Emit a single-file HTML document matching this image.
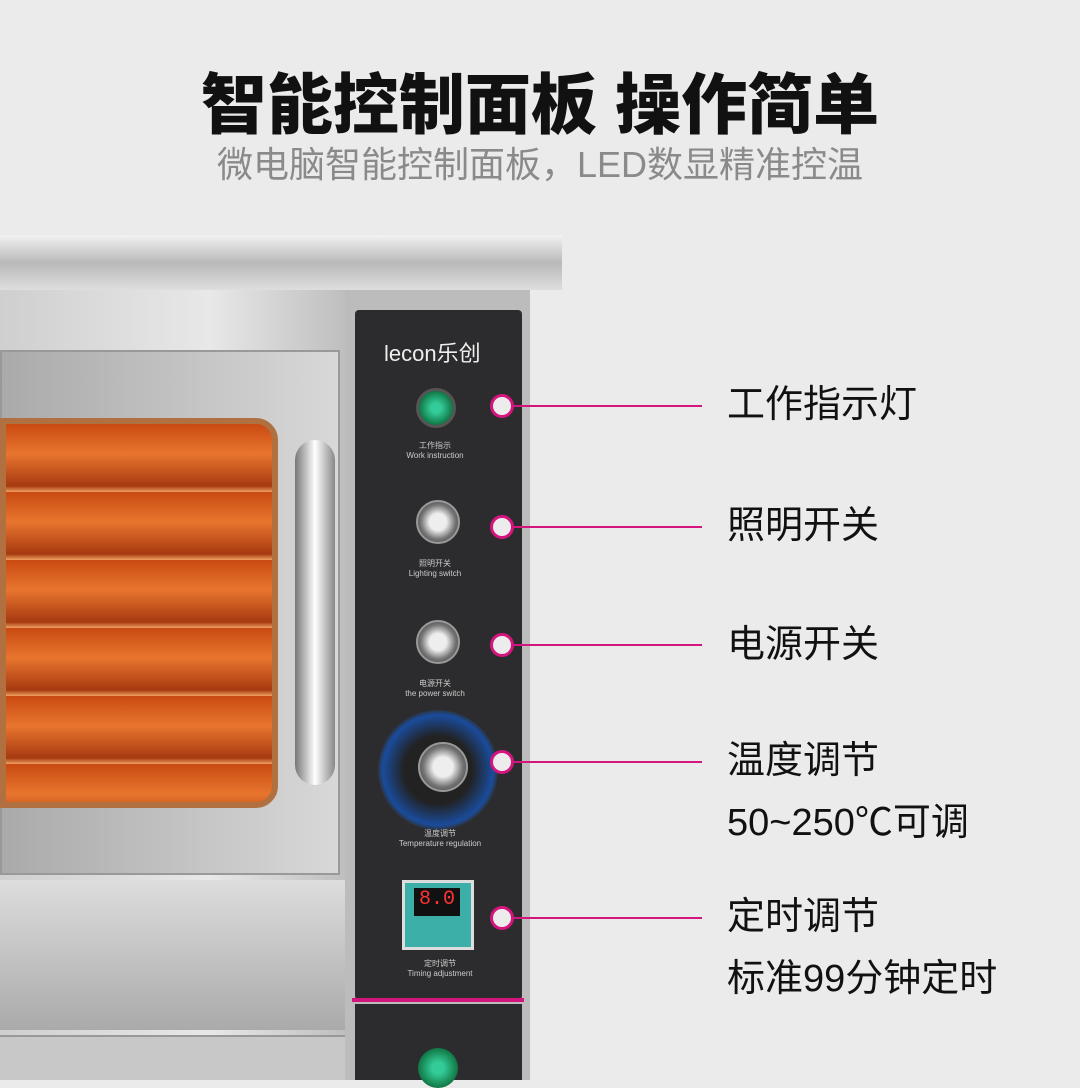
<!DOCTYPE html>
<html><head><meta charset="utf-8">
<style>
*{margin:0;padding:0;box-sizing:border-box}
body{width:1080px;height:1080px;overflow:hidden;background:#ebebeb;position:relative;font-family:"Liberation Sans","Noto Sans CJK SC",sans-serif}
.abs{position:absolute}
.t1{left:0;width:1080px;top:52px;text-align:center;font-size:66px;font-weight:900;color:#111;letter-spacing:0}
.t2{left:0;width:1080px;top:136px;text-align:center;font-size:36px;color:#8a8a8a}
.lab{left:727px;font-size:38px;color:#111;line-height:62px}
.line{height:2px;background:#d4157d;left:512px;width:190px}
.dot{width:24px;height:24px;border-radius:50%;background:#ececec;border:3px solid #d4157d}
.steel{background:linear-gradient(180deg,#f2f2f2,#b9b9b9 50%,#dedede)}
.knob{width:44px;height:44px;border-radius:50%;background:radial-gradient(circle,#eee 30%,#777 60%,#222);border:2px solid #999}
.small{font-size:8px;color:#ccc;text-align:center}
</style></head><body>
<div class="abs t1">智能控制面板 操作简单</div>
<div class="abs t2">微电脑智能控制面板，LED数显精准控温</div>

<div class="abs steel" style="left:0;top:235px;width:562px;height:55px"></div>
<div class="abs" style="left:0;top:290px;width:350px;height:790px;background:linear-gradient(90deg,#cfcfcf,#e8e8e8 60%,#bdbdbd)"></div>
<div class="abs" style="left:0;top:350px;width:340px;height:525px;background:linear-gradient(90deg,#aaa,#d8d8d8);border:2px solid #999"></div>
<div class="abs" style="left:0;top:418px;width:278px;height:390px;border-radius:0 22px 22px 0;background:repeating-linear-gradient(180deg,#c94a12 0,#e8752e 30px,#a63a10 62px,#f0a060 68px);border:6px solid #b07040"></div>
<div class="abs" style="left:295px;top:440px;width:40px;height:345px;border-radius:20px;background:linear-gradient(90deg,#777,#fff,#888);"></div>
<div class="abs" style="left:0;top:880px;width:345px;height:150px;background:linear-gradient(180deg,#ddd,#aaa)"></div>
<div class="abs" style="left:0;top:1035px;width:345px;height:45px;background:#c8c8c8;border-top:2px solid #999"></div>
<div class="abs" style="left:345px;top:290px;width:185px;height:790px;background:#bcbcbc"></div>

<div class="abs" style="left:355px;top:310px;width:167px;height:690px;background:#2c2c2e;border-radius:4px"></div>
<div class="abs" style="left:352px;top:998px;width:172px;height:4px;background:#d4157d"></div>
<div class="abs" style="left:355px;top:1004px;width:167px;height:76px;background:#2c2c2e"></div>
<div class="abs" style="left:384px;top:336px;font-size:22px;color:#eee">lecon乐创</div>
<div class="abs" style="left:416px;top:388px;width:40px;height:40px;border-radius:50%;background:radial-gradient(circle,#3c9 20%,#174 70%);border:3px solid #555"></div>
<div class="abs small" style="left:390px;top:440px;width:90px">工作指示<br>Work instruction</div>
<div class="abs knob" style="left:416px;top:500px"></div>
<div class="abs small" style="left:390px;top:558px;width:90px">照明开关<br>Lighting switch</div>
<div class="abs knob" style="left:416px;top:620px"></div>
<div class="abs small" style="left:390px;top:678px;width:90px">电源开关<br>the power switch</div>
<div class="abs" style="left:378px;top:710px;width:120px;height:120px;border-radius:50%;background:radial-gradient(circle,#222 40%,#1a4c9c 65%,#2f2f30 72%);"></div>
<div class="abs knob" style="left:418px;top:742px;width:50px;height:50px"></div>
<div class="abs small" style="left:385px;top:828px;width:110px">温度调节<br>Temperature regulation</div>
<div class="abs" style="left:402px;top:880px;width:72px;height:70px;background:#3cb0a8;border:3px solid #ddd"></div>
<div class="abs" style="left:414px;top:888px;width:46px;height:28px;background:#111;color:#f33;font-size:20px;text-align:center;font-family:'Liberation Mono',monospace">8.0</div>
<div class="abs small" style="left:390px;top:958px;width:100px">定时调节<br>Timing adjustment</div>
<div class="abs" style="left:418px;top:1048px;width:40px;height:40px;border-radius:50%;background:radial-gradient(circle,#3c9 20%,#174 70%)"></div>

<div class="abs line" style="top:405px"></div><div class="abs dot" style="left:490px;top:394px"></div>
<div class="abs line" style="top:526px"></div><div class="abs dot" style="left:490px;top:515px"></div>
<div class="abs line" style="top:644px"></div><div class="abs dot" style="left:490px;top:633px"></div>
<div class="abs line" style="top:761px"></div><div class="abs dot" style="left:490px;top:750px"></div>
<div class="abs line" style="top:917px"></div><div class="abs dot" style="left:490px;top:906px"></div>

<div class="abs lab" style="top:374px">工作指示灯</div>
<div class="abs lab" style="top:495px">照明开关</div>
<div class="abs lab" style="top:614px">电源开关</div>
<div class="abs lab" style="top:730px">温度调节<br>50~250℃可调</div>
<div class="abs lab" style="top:886px">定时调节<br>标准99分钟定时</div>
</body></html>
